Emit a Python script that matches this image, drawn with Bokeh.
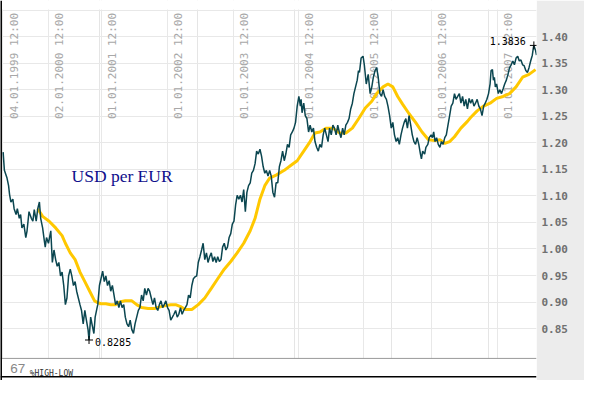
from bokeh.plotting import figure
from bokeh.models import Range1d, FixedTicker, Grid, Span, Label, BoxAnnotation, NumeralTickFormatter
from bokeh.core.properties import value
from bokeh.embed import file_html
from bokeh.resources import INLINE
import math

# ---------------- data ----------------
# x: position of the observation on the chart's trading-time axis
price_obs = [0.7, 2.0, 4.7, 6.3, 7.3, 8.7, 10.7, 12.0, 14.0, 15.3, 17.3, 18.7, 20.0, 22.0, 24.0, 25.3,
             27.3, 29.7, 31.3, 32.7, 34.7, 36.3, 38.0, 39.3, 41.3, 43.0, 44.0, 45.3, 47.3, 49.7, 51.3,
             53.0, 54.7, 56.3, 58.0, 59.7, 61.3, 63.0, 64.7, 66.3, 68.0, 69.7, 71.3, 73.0, 74.7, 76.3,
             78.0, 79.7, 81.3, 83.0, 84.7, 86.3, 88.0, 89.0, 90.7, 92.0, 94.0, 95.3, 97.3, 98.0, 99.7,
             101.3, 103.0, 104.7, 106.3, 108.0, 109.7, 111.3, 113.0, 114.7, 116.3, 118.0, 119.7, 121.3,
             123.0, 124.7, 126.3, 128.0, 129.7, 131.3, 133.0, 134.7, 136.3, 138.0, 139.7, 141.3, 143.0,
             144.7, 146.3, 148.0, 149.7, 151.3, 153.0, 154.7, 156.3, 158.0, 159.7, 161.3, 163.0, 164.7,
             166.3, 168.0, 169.7, 171.3, 173.0, 174.7, 176.3, 178.0, 179.7, 181.3, 183.0, 184.7, 186.3,
             188.0, 189.7, 191.3, 193.0, 194.7, 196.3, 198.0, 199.7, 201.3, 203.0, 204.7, 206.3, 208.0,
             209.7, 211.3, 213.0, 214.7, 216.3, 218.0, 219.7, 221.3, 223.0, 224.7, 226.3, 228.0, 229.7,
             231.3, 233.0, 234.7, 236.3, 238.0, 239.7, 241.3, 243.0, 244.7, 246.3, 248.0, 249.7, 251.3,
             253.0, 254.7, 256.3, 258.0, 259.7, 261.3, 263.0, 264.7, 266.3, 268.0, 269.7, 271.3, 273.0,
             274.7, 276.3, 278.0, 279.7, 281.3, 283.0, 284.7, 286.3, 288.0, 289.7, 291.3, 293.0, 294.7,
             296.3, 298.0, 299.7, 301.3, 303.0, 304.7, 306.3, 307.0, 308.0, 309.7, 311.3, 313.0, 314.7,
             316.3, 318.0, 319.7, 321.3, 323.0, 324.7, 326.3, 328.0, 329.7, 331.3, 333.0, 334.7, 336.3,
             338.0, 339.7, 341.3, 343.0, 344.7, 346.3, 348.0, 349.7, 351.3, 353.0, 354.7, 356.3, 358.0,
             359.7, 361.3, 363.0, 364.7, 366.0, 367.0, 368.7, 370.7, 372.0, 374.0, 376.0, 378.0, 379.7,
             381.3, 383.0, 384.7, 386.3, 388.0, 389.7, 391.3, 393.0, 394.7, 396.3, 398.0, 399.7, 401.3,
             403.0, 404.7, 406.3, 408.0, 409.7, 411.3, 413.0, 414.7, 416.3, 418.0, 419.7, 421.3, 423.0,
             424.7, 426.3, 428.0, 429.7, 430.7, 432.0, 434.0, 435.3, 437.3, 438.7, 440.7, 442.0, 443.3,
             444.7, 446.3, 448.0, 449.7, 451.3, 453.0, 454.7, 456.3, 458.0, 459.7, 461.3, 463.0, 464.7,
             466.3, 468.0, 469.7, 471.3, 473.0, 474.7, 476.3, 478.0, 479.7, 481.3, 483.0, 484.7, 486.3,
             488.0, 489.7, 491.3, 493.0, 494.7, 496.3, 498.0, 499.7, 501.3, 502.3, 503.7, 504.7, 505.7,
             506.7, 508.0, 509.7, 511.3, 513.0, 514.7, 516.3, 518.0, 519.7, 521.3, 523.0, 524.7, 526.3,
             528.0, 529.7, 531.3, 533.0, 534.7, 536.3, 538.0, 539.7, 541.3, 543.0, 544.7, 545.7, 546.3,
             548.0, 549.0]
usd_per_eur = [1.1825, 1.1482, 1.1337, 1.1193, 1.1030, 1.0885, 1.0939, 1.0759, 1.0650, 1.0759, 1.0578,
               1.0650, 1.0397, 1.0469, 1.0216, 1.0343, 1.0704, 1.0578, 1.0524, 1.0741, 1.0524, 1.0759,
               1.0885, 1.0578, 1.0397, 1.0162, 1.0035, 1.0216, 1.0108, 1.0343, 0.9746, 0.9981, 0.9800,
               0.9674, 0.9746, 0.9493, 0.9565, 0.9312, 0.8951, 0.9077, 0.9493, 0.9620, 0.9493, 0.9312,
               0.9385, 0.9204, 0.9077, 0.8951, 0.8842, 0.8589, 0.8842, 0.8661, 0.8481, 0.8285, 0.8716,
               0.8589, 0.8408, 0.8716, 0.8896, 0.8951, 0.9312, 0.9439, 0.9583, 0.9385, 0.9493, 0.9312,
               0.9403, 0.9204, 0.9312, 0.9132, 0.8951, 0.9023, 0.8896, 0.9023, 0.8896, 0.8951, 0.8716,
               0.8589, 0.8535, 0.8661, 0.8481, 0.8408, 0.8589, 0.8716, 0.8842, 0.8896, 0.9132, 0.9023,
               0.9258, 0.9132, 0.9258, 0.9204, 0.9077, 0.8951, 0.9077, 0.8896, 0.8842, 0.8951, 0.9023,
               0.8896, 0.8951, 0.9023, 0.8896, 0.8842, 0.8661, 0.8716, 0.8770, 0.8842, 0.8716, 0.8770,
               0.8896, 0.8770, 0.8842, 0.8896, 0.8951, 0.9132, 0.9077, 0.9312, 0.9439, 0.9475, 0.9493,
               0.9746, 0.9855, 0.9981, 1.0108, 0.9800, 0.9927, 0.9746, 0.9855, 0.9927, 0.9764, 0.9855,
               0.9746, 0.9855, 0.9764, 0.9800, 1.0035, 1.0108, 0.9981, 1.0035, 1.0216, 1.0289, 1.0469,
               1.0524, 1.0831, 1.1012, 1.0939, 1.1012, 1.0885, 1.1120, 1.0704, 1.1066, 1.1193, 1.1247,
               1.1428, 1.1482, 1.1608, 1.1843, 1.1789, 1.1880, 1.1753, 1.1554, 1.1428, 1.1482, 1.1373,
               1.1482, 1.1373, 1.1066, 1.0976, 1.1247, 1.1247, 1.1554, 1.1663, 1.1843, 1.1663, 1.1789,
               1.1970, 1.1916, 1.2151, 1.2205, 1.2277, 1.2386, 1.2693, 1.2874, 1.2693, 1.2820, 1.2567,
               1.2747, 1.2512, 1.2458, 1.2205, 1.2332, 1.2205, 1.2277, 1.2024, 1.1916, 1.1843, 1.1970,
               1.1916, 1.2151, 1.2277, 1.2151, 1.2024, 1.2277, 1.2151, 1.2332, 1.2277, 1.2151, 1.2332,
               1.2205, 1.2097, 1.2277, 1.2151, 1.2332, 1.2386, 1.2458, 1.2639, 1.2747, 1.2928, 1.3055,
               1.3181, 1.3362, 1.3326, 1.3597, 1.3633, 1.3471, 1.3109, 1.3290, 1.2928, 1.3055, 1.3236,
               1.3362, 1.3416, 1.3236, 1.2928, 1.2874, 1.3001, 1.2874, 1.2820, 1.2693, 1.2512, 1.2277,
               1.2386, 1.2151, 1.2024, 1.2097, 1.1970, 1.2151, 1.2277, 1.2386, 1.2458, 1.2277, 1.2512,
               1.2332, 1.2151, 1.2024, 1.1970, 1.2097, 1.1970, 1.1789, 1.1699, 1.1843, 1.1789, 1.1916,
               1.1970, 1.2097, 1.2151, 1.2097, 1.2205, 1.2024, 1.2097, 1.1970, 1.1916, 1.2024, 1.1970,
               1.2097, 1.2151, 1.2332, 1.2512, 1.2693, 1.2747, 1.2928, 1.2820, 1.2874, 1.2928, 1.2747,
               1.2874, 1.2693, 1.2820, 1.2639, 1.2838, 1.2747, 1.2820, 1.2693, 1.2747, 1.2820, 1.2693,
               1.2639, 1.2512, 1.2693, 1.2747, 1.2820, 1.2928, 1.3109, 1.3362, 1.3380, 1.3181, 1.3236,
               1.3055, 1.3109, 1.2928, 1.3001, 1.2928, 1.3018, 1.3109, 1.3181, 1.3290, 1.3416, 1.3471,
               1.3543, 1.3471, 1.3597, 1.3633, 1.3543, 1.3561, 1.3471, 1.3453, 1.3362, 1.3326, 1.3416,
               1.3543, 1.3651, 1.3778, 1.3836, 1.3742, 1.3651]

# moving average (yellow)
ma_obs = [36.3, 41.3, 48.0, 54.7, 61.3, 64.7, 69.7, 74.7, 79.7, 84.7, 89.7, 94.7, 98.0, 101.3, 106.3,
          111.3, 116.3, 121.3, 126.3, 133.0, 138.0, 143.0, 149.7, 156.3, 163.0, 168.0, 173.0, 178.0,
          183.0, 188.0, 194.7, 201.3, 208.0, 214.7, 221.3, 228.0, 234.7, 241.3, 248.0, 254.7, 259.7,
          264.7, 269.7, 274.7, 281.3, 289.7, 296.3, 303.0, 309.7, 316.3, 321.3, 326.3, 333.0, 339.7,
          346.3, 353.0, 359.7, 366.3, 373.0, 379.7, 384.7, 391.3, 396.3, 401.3, 406.3, 411.3, 418.0,
          424.7, 431.3, 438.0, 444.7, 449.7, 454.7, 459.7, 464.7, 471.3, 478.0, 481.3, 488.0, 494.7,
          501.3, 508.0, 514.7, 521.3, 528.0, 534.7, 541.3, 548.0]
ma_usd = [1.0759, 1.0614, 1.0524, 1.0397, 1.0252, 1.0108, 0.9927, 0.9800, 0.9565, 0.9385, 0.9204,
          0.9023, 0.8987, 0.8969, 0.8969, 0.8951, 0.8951, 0.9005, 0.9023, 0.9023, 0.8951, 0.8896,
          0.8878, 0.8878, 0.8914, 0.8933, 0.8951, 0.8951, 0.8914, 0.8860, 0.8860, 0.8951, 0.9077,
          0.9258, 0.9439, 0.9620, 0.9764, 0.9927, 1.0108, 1.0343, 1.0578, 1.0939, 1.1193, 1.1337,
          1.1391, 1.1482, 1.1572, 1.1663, 1.1843, 1.2024, 1.2187, 1.2205, 1.2277, 1.2277, 1.2187,
          1.2187, 1.2277, 1.2458, 1.2657, 1.2784, 1.2928, 1.3055, 1.3109, 1.3055, 1.2874, 1.2729,
          1.2548, 1.2386, 1.2205, 1.2060, 1.2042, 1.2060, 1.1988, 1.2024, 1.2115, 1.2277, 1.2404,
          1.2476, 1.2603, 1.2693, 1.2747, 1.2838, 1.2874, 1.2928, 1.3055, 1.3236, 1.3290, 1.3380]

year_obs = [1.0, 47.3, 101.7, 169.7, 237.3, 304.0, 371.3, 441.0, 509.0]
year_labels = ["04.01.1999 12:00", "02.01.2000 12:00", "01.01.2001 12:00", "01.01.2002 12:00",
               "01.01.2003 12:00", "01.01.2004 12:00", "01.01.2005 12:00", "01.01.2006 12:00",
               "01.01.2007 12:00"]
y_ticks = [0.85, 0.90, 0.95, 1.00, 1.05, 1.10, 1.15, 1.20, 1.25, 1.30, 1.35, 1.40]
grid_levels = y_ticks + [1.45]
low_obs, low_val = 89.0, 0.8285
high_obs, high_val = 546.3, 1.3836
title_text = "USD per EUR"
indicator_value = "67"
indicator_name = "%HIGH-LOW"
unit_text = "USD"

# ---------------- layout ----------------
X0, X1 = -2, 549
Y0, Y1 = 0.7522, 1.4682
MAIN_BOTTOM = 0.7938
TOP_EDGE = 1.4512

p = figure(width=584, height=380, x_range=Range1d(X0, X1), y_range=Range1d(Y0, Y1),
           x_axis_location=None, y_axis_location="right",
           output_backend="svg", toolbar_location=None,
           min_border_left=0, min_border_right=48, min_border_top=0, min_border_bottom=0)
p.border_fill_color = "#ececec"
p.background_fill_color = "white"
p.outline_line_color = None

ax = p.yaxis[0]
ax.ticker = FixedTicker(ticks=y_ticks)
ax.formatter = NumeralTickFormatter(format="0.00")
ax.axis_line_color = None
ax.major_tick_line_color = None
ax.minor_tick_line_color = None
ax.major_tick_out = 0
ax.major_tick_in = 0
ax.major_label_standoff = 5
ax.major_label_text_font = "DejaVu Sans Mono"
ax.major_label_text_font_style = "bold"
ax.major_label_text_font_size = "11px"
ax.major_label_text_color = "#707070"

p.ygrid[0].ticker = FixedTicker(ticks=grid_levels)
p.ygrid[0].grid_line_color = "#e8e8e8"
p.add_layout(Grid(dimension=0, ticker=FixedTicker(ticks=year_obs[1:]), grid_line_color="#e8e8e8"))

# white bands above the plot and under it (indicator strip)
p.quad(left=X0, right=X1, bottom=Y0, top=MAIN_BOTTOM, fill_color="white", line_color=None)
p.quad(left=X0, right=X1, bottom=TOP_EDGE, top=Y1, fill_color="white", line_color=None)
p.add_layout(BoxAnnotation(left=X1, right=X1 + 60, bottom=TOP_EDGE, top=Y1 + 0.01,
                           fill_color="white", fill_alpha=1.0, line_color=None))

# date labels
p.text(x=year_obs, y=[1.4447] * len(year_obs), text=year_labels, angle=math.pi / 2,
       x_offset=11, text_align="right", text_baseline="alphabetic",
       text_font=value("DejaVu Sans Mono"), text_font_size="11px", text_color="#a8a8a8")

p.line(ma_obs, ma_usd, line_color="#ffc800", line_width=3)
p.line(price_obs, usd_per_eur, line_color="#0b4650", line_width=1.5)

p.scatter([low_obs, high_obs], [low_val, high_val], marker="cross", size=8,
          line_color="black", line_width=1)
p.text(x=[low_obs], y=[low_val], text=["%.4f" % low_val], x_offset=6, y_offset=2,
       text_align="left", text_baseline="middle",
       text_font=value("DejaVu Sans Mono"), text_font_size="10px", text_color="black")
p.text(x=[high_obs], y=[high_val], text=["%.4f" % high_val], x_offset=-8, y_offset=-4,
       text_align="right", text_baseline="middle",
       text_font=value("DejaVu Sans Mono"), text_font_size="10px", text_color="black")

p.text(x=[71], y=[1.1368], text=[title_text], text_baseline="alphabetic",
       text_font=value("Liberation Serif"), text_font_size="17.5px", text_color="#10108c")

p.text(x=[8], y=[0.7739], text=[indicator_value], text_baseline="middle",
       text_font=value("Liberation Sans"), text_font_size="13.5px", text_color="#888888")
p.text(x=[28], y=[0.7654], text=[indicator_name], text_baseline="alphabetic",
       text_font=value("DejaVu Sans Mono"), text_font_size="8px", text_color="#333333")

p.add_layout(Span(location=MAIN_BOTTOM, dimension="width", line_color="#999999", line_width=1))
p.add_layout(Span(location=0.7595, dimension="width", line_color="black", line_width=1.5))
p.add_layout(Span(location=-1.5, dimension="height", line_color="black", line_width=2))

p.add_layout(Label(x=558, y=0.7739, text=unit_text, text_baseline="middle",
                   text_font="DejaVu Sans Mono", text_font_style="bold",
                   text_font_size="11px", text_color="#707070"))

open("out.html", "w").write(file_html(p, INLINE))
